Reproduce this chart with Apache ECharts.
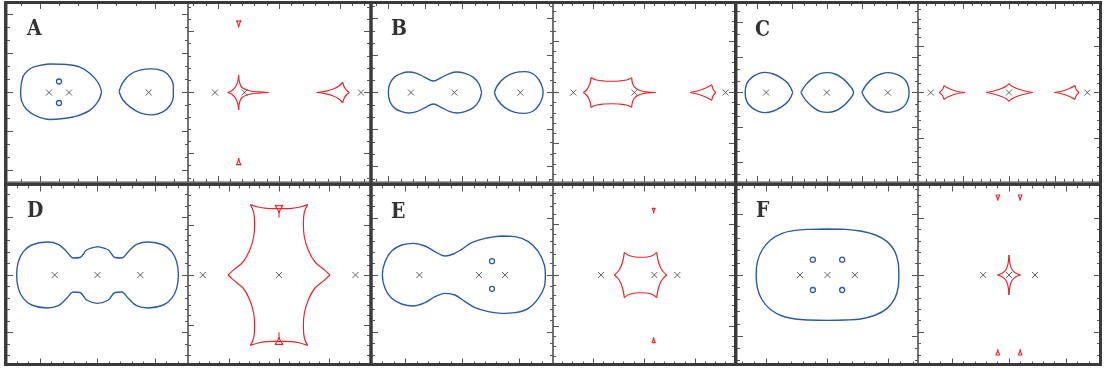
<!DOCTYPE html>
<html>
<head>
<meta charset="utf-8">
<script src="https://cdn.jsdelivr.net/npm/echarts@6/dist/echarts.min.js"></script>
<style>
  html, body { margin: 0; padding: 0; background: #ffffff; }
  #chart { width: 1106px; height: 372px; }
</style>
</head>
<body>
<div id="chart"></div>
<script>
// ---------- Data (angular units, image plane on the left, source plane on the right) ----------

// Panel A
const lensA_img = [[-0.97, 0], [-0.57, 0], [1.023, 0]];
const imagesA = [[-0.77, 0.22], [-0.77, -0.21]];
const critA_1 = [[0.083,0.01],[0.017,-0.173],[-0.15,-0.353],[-0.417,-0.473],[-0.683,-0.52],[-0.95,-0.54],[-1.217,-0.473],[-1.417,-0.34],[-1.517,-0.173],[-1.537,0.02],[-1.49,0.32],[-1.383,0.447],[-1.283,0.507],[-0.95,0.57],[-0.617,0.56],[-0.35,0.507],[-0.15,0.38],[0.017,0.19],[0.083,0.01]];
const critA_2 = [[0.43,0.02],[0.503,0.193],[0.65,0.36],[0.85,0.447],[1.083,0.473],[1.317,0.427],[1.45,0.307],[1.517,0.127],[1.517,-0.073],[1.45,-0.26],[1.297,-0.393],[1.083,-0.447],[0.85,-0.407],[0.65,-0.287],[0.503,-0.14],[0.43,0.02]];
const lensA_src = [[-1.28, 0], [-0.693, 0], [1.64, 0]];
const causticA = [
  [[-1.027,0],[-0.95,0.03],[-0.88,0.1],[-0.83,0.2],[-0.807,0.35]],
  [[-0.807,0.35],[-0.79,0.2],[-0.74,0.1],[-0.613,0.04],[-0.413,0.012],[-0.207,0]],
  [[-0.207,0],[-0.413,-0.012],[-0.613,-0.04],[-0.74,-0.1],[-0.79,-0.2],[-0.807,-0.35]],
  [[-0.807,-0.35],[-0.83,-0.2],[-0.88,-0.1],[-0.95,-0.03],[-1.027,0]],
  [[0.753,0],[0.92,0.023],[1.087,0.07],[1.2,0.13],[1.273,0.205]],
  [[1.273,0.205],[1.31,0.1],[1.36,0.035],[1.407,0]],
  [[1.407,0],[1.36,-0.035],[1.31,-0.1],[1.273,-0.205]],
  [[1.273,-0.205],[1.2,-0.13],[1.087,-0.07],[0.92,-0.023],[0.753,0]]
];
const smallA = [
  [[-0.853,1.437],[-0.807,1.425],[-0.76,1.437],[-0.79,1.38],[-0.807,1.303],[-0.824,1.38],[-0.853,1.437]],
  [[-0.807,-1.31],[-0.79,-1.39],[-0.76,-1.45],[-0.807,-1.437],[-0.853,-1.45],[-0.824,-1.39],[-0.807,-1.31]]
];

// Panel B
const lensB_img = [[-1.03, 0], [-0.163, 0], [1.157, 0]];
const critB_1 = [[0.383,0],[0.33,-0.17],[0.217,-0.303],[0.05,-0.383],[-0.117,-0.41],[-0.25,-0.383],[-0.417,-0.303],[-0.583,-0.23],[-0.75,-0.303],[-0.917,-0.383],[-1.083,-0.41],[-1.217,-0.383],[-1.35,-0.317],[-1.45,-0.183],[-1.483,0],[-1.45,0.183],[-1.35,0.317],[-1.217,0.383],[-1.083,0.41],[-0.917,0.383],[-0.75,0.303],[-0.583,0.23],[-0.417,0.303],[-0.25,0.383],[-0.117,0.41],[0.05,0.383],[0.217,0.303],[0.33,0.17],[0.383,0]];
const critB_2 = [[0.637,0],[0.703,0.15],[0.85,0.303],[1.05,0.397],[1.25,0.417],[1.417,0.37],[1.53,0.25],[1.597,0.103],[1.61,0],[1.597,-0.103],[1.53,-0.25],[1.417,-0.37],[1.25,-0.417],[1.05,-0.397],[0.85,-0.303],[0.703,-0.15],[0.637,0]];
const lensB_src = [[-1.413, 0], [-0.193, 0], [1.633, 0]];
const causticB = [
  [[-1.213,0],[-1.15,0.05],[-1.1,0.13],[-1.07,0.22],[-1.06,0.297]],
  [[-1.06,0.297],[-0.95,0.25],[-0.8,0.23],[-0.647,0.225],[-0.5,0.23],[-0.35,0.25],[-0.247,0.297]],
  [[-0.247,0.297],[-0.225,0.17],[-0.16,0.08],[-0.05,0.03],[0.08,0.008],[0.233,0]],
  [[0.233,0],[0.08,-0.008],[-0.05,-0.03],[-0.16,-0.08],[-0.225,-0.17],[-0.247,-0.297]],
  [[-0.247,-0.297],[-0.35,-0.25],[-0.5,-0.23],[-0.647,-0.225],[-0.8,-0.23],[-0.95,-0.25],[-1.06,-0.297]],
  [[-1.06,-0.297],[-1.07,-0.22],[-1.1,-0.13],[-1.15,-0.05],[-1.213,0]],
  [[0.92,0],[1.087,0.035],[1.233,0.09],[1.353,0.157]],
  [[1.353,0.157],[1.38,0.07],[1.433,0]],
  [[1.433,0],[1.38,-0.07],[1.353,-0.157]],
  [[1.353,-0.157],[1.233,-0.09],[1.087,-0.035],[0.92,0]]
];

// Panel C
const lensC_img = [[-1.227, 0], [-0.013, 0], [1.207, 0]];
const critC_1 = [[-0.693,0],[-0.78,-0.17],[-0.913,-0.283],[-1.08,-0.37],[-1.247,-0.403],[-1.38,-0.377],[-1.513,-0.303],[-1.613,-0.183],[-1.647,0],[-1.613,0.183],[-1.513,0.303],[-1.38,0.377],[-1.247,0.403],[-1.08,0.37],[-0.913,0.283],[-0.78,0.17],[-0.693,0]];
const critC_2 = [[-0.533,0],[-0.433,0.157],[-0.28,0.303],[-0.147,0.377],[0,0.397],[0.153,0.37],[0.3,0.283],[0.433,0.15],[0.52,0],[0.433,-0.15],[0.3,-0.283],[0.153,-0.37],[0,-0.397],[-0.147,-0.377],[-0.28,-0.303],[-0.433,-0.157],[-0.533,0]];
const critC_3 = [[0.687,0],[0.773,0.15],[0.92,0.297],[1.067,0.37],[1.22,0.397],[1.387,0.363],[1.52,0.283],[1.6,0.17],[1.633,0],[1.6,-0.17],[1.52,-0.283],[1.387,-0.363],[1.22,-0.397],[1.067,-0.37],[0.92,-0.297],[0.773,-0.15],[0.687,0]];
const lensC_src = [[-1.565, 0], [0, 0], [1.565, 0]];
const causticC = [
  [[-0.88,0],[-1.047,0.025],[-1.18,0.07],[-1.3,0.137]],
  [[-1.3,0.137],[-1.33,0.06],[-1.393,0]],
  [[-1.393,0],[-1.33,-0.06],[-1.3,-0.137]],
  [[-1.3,-0.137],[-1.18,-0.07],[-1.047,-0.025],[-0.88,0]],
  [[-0.46,0],[-0.313,0.03],[-0.15,0.08],[-0.05,0.13],[0,0.177]],
  [[0,0.177],[0.05,0.13],[0.153,0.08],[0.32,0.03],[0.473,0]],
  [[0.473,0],[0.32,-0.03],[0.153,-0.08],[0.05,-0.13],[0,-0.177]],
  [[0,-0.177],[-0.05,-0.13],[-0.15,-0.08],[-0.313,-0.03],[-0.46,0]],
  [[0.907,0],[1.053,0.025],[1.187,0.07],[1.32,0.137]],
  [[1.32,0.137],[1.345,0.06],[1.4,0]],
  [[1.4,0],[1.345,-0.06],[1.32,-0.137]],
  [[1.32,-0.137],[1.187,-0.07],[1.053,-0.025],[0.907,0]]
];

// Panel D
const lensD_img = [[-0.857, 0], [0, 0], [0.857, 0]];
const critD_1 = [[0,0.567],[0.217,0.5],[0.35,0.35],[0.483,0.34],[0.617,0.467],[0.783,0.613],[1.017,0.66],[1.317,0.6],[1.483,0.467],[1.583,0.267],[1.617,0],[1.583,-0.267],[1.483,-0.467],[1.317,-0.6],[1.017,-0.66],[0.783,-0.613],[0.617,-0.467],[0.483,-0.34],[0.35,-0.35],[0.217,-0.5],[0,-0.567],[-0.217,-0.5],[-0.35,-0.35],[-0.483,-0.34],[-0.617,-0.467],[-0.783,-0.613],[-1.017,-0.66],[-1.317,-0.6],[-1.483,-0.467],[-1.583,-0.267],[-1.617,0],[-1.583,0.267],[-1.483,0.467],[-1.317,0.6],[-1.017,0.66],[-0.783,0.613],[-0.617,0.467],[-0.483,0.34],[-0.35,0.35],[-0.217,0.5],[0,0.567]];
const lensD_src = [[-1.525, 0], [0, 0], [1.53, 0]];
const causticD = [
  [[-1.02,0],[-0.92,0.093],[-0.72,0.26],[-0.587,0.493],[-0.507,0.76],[-0.487,1.027],[-0.507,1.26],[-0.573,1.407]],
  [[-0.573,1.407],[-0.42,1.36],[-0.253,1.333],[-0.1,1.327],[0.1,1.327],[0.253,1.333],[0.42,1.36],[0.573,1.407]],
  [[0.573,1.407],[0.507,1.26],[0.487,1.027],[0.507,0.76],[0.587,0.493],[0.72,0.26],[0.92,0.093],[1.02,0]],
  [[1.02,0],[0.92,-0.093],[0.72,-0.26],[0.587,-0.493],[0.507,-0.76],[0.487,-1.027],[0.507,-1.26],[0.573,-1.407]],
  [[0.573,-1.407],[0.42,-1.36],[0.253,-1.333],[0.1,-1.327],[-0.1,-1.327],[-0.253,-1.333],[-0.42,-1.36],[-0.573,-1.407]],
  [[-0.573,-1.407],[-0.507,-1.26],[-0.487,-1.027],[-0.507,-0.76],[-0.587,-0.493],[-0.72,-0.26],[-0.92,-0.093],[-1.02,0]]
];
const smallD = [
  [[-0.08,1.393],[0,1.385],[0.08,1.393],[0.02,1.3],[0,1.227],[-0.02,1.3],[-0.08,1.393]],
  [[0,1.227],[0,1.147]],
  [[0,-1.227],[0.02,-1.3],[0.08,-1.393],[0,-1.385],[-0.08,-1.393],[-0.02,-1.3],[0,-1.227]],
  [[0,-1.227],[0,-1.147]]
];

// Panel E
const lensE_img = [[-0.863, 0], [0.33, 0], [0.85, 0]];
const imagesE = [[0.59, 0.277], [0.59, -0.277]];
const critE_1 = [[0.783,0.78],[1.05,0.767],[1.317,0.667],[1.517,0.467],[1.637,0.2],[1.657,0],[1.637,-0.233],[1.517,-0.467],[1.317,-0.667],[1.05,-0.753],[0.783,-0.767],[0.517,-0.733],[0.25,-0.653],[0.05,-0.533],[-0.15,-0.4],[-0.35,-0.367],[-0.55,-0.433],[-0.75,-0.553],[-0.983,-0.62],[-1.217,-0.58],[-1.417,-0.467],[-1.55,-0.267],[-1.603,0],[-1.55,0.267],[-1.417,0.48],[-1.217,0.6],[-0.983,0.633],[-0.75,0.58],[-0.55,0.467],[-0.35,0.38],[-0.183,0.42],[-0.017,0.513],[0.183,0.647],[0.45,0.733],[0.783,0.78]];
const lensE_src = [[-0.86, 0], [0.207, 0], [0.667, 0]];
const causticE = [
  [[-0.593,0],[-0.52,0.07],[-0.46,0.17],[-0.42,0.3],[-0.393,0.453]],
  [[-0.393,0.453],[-0.3,0.39],[-0.17,0.36],[-0.07,0.355],[0.06,0.36],[0.17,0.39],[0.253,0.453]],
  [[0.253,0.453],[0.28,0.3],[0.32,0.17],[0.38,0.07],[0.453,0]],
  [[0.453,0],[0.38,-0.07],[0.32,-0.17],[0.28,-0.3],[0.253,-0.453]],
  [[0.253,-0.453],[0.17,-0.39],[0.06,-0.36],[-0.07,-0.355],[-0.17,-0.36],[-0.3,-0.39],[-0.393,-0.453]],
  [[-0.393,-0.453],[-0.42,-0.3],[-0.46,-0.17],[-0.52,-0.07],[-0.593,0]]
];
const smallE = [
  [[0.16,1.333],[0.193,1.323],[0.227,1.333],[0.203,1.29],[0.193,1.233],[0.183,1.29],[0.16,1.333]],
  [[0.193,-1.247],[0.203,-1.3],[0.227,-1.353],[0.193,-1.343],[0.16,-1.353],[0.183,-1.3],[0.193,-1.247]]
];

// Panel F
const lensF_img = [[-0.55, 0], [0, 0], [0.547, 0]];
const imagesF = [[-0.293, 0.307], [0.293, 0.307], [-0.293, -0.3], [0.293, -0.3]];
const critF_1 = [[0,0.92],[0.36,0.913],[0.66,0.88],[0.96,0.8],[1.193,0.667],[1.347,0.467],[1.413,0.247],[1.427,0],[1.413,-0.247],[1.347,-0.467],[1.193,-0.667],[0.96,-0.8],[0.66,-0.88],[0.36,-0.9],[0,-0.907],[-0.373,-0.9],[-0.64,-0.88],[-0.907,-0.82],[-1.14,-0.69],[-1.307,-0.5],[-1.4,-0.267],[-1.427,0],[-1.4,0.267],[-1.307,0.5],[-1.14,0.7],[-0.907,0.833],[-0.64,0.893],[-0.373,0.913],[0,0.92]];
const lensF_src = [[-0.517, 0], [0, 0], [0.52, 0]];
const causticF = [
  [[-0.23,0],[-0.13,0.04],[-0.06,0.11],[-0.02,0.22],[0,0.4]],
  [[0,0.4],[0.02,0.22],[0.06,0.11],[0.13,0.04],[0.23,0]],
  [[0.23,0],[0.13,-0.04],[0.06,-0.11],[0.02,-0.22],[0,-0.4]],
  [[0,-0.4],[-0.02,-0.22],[-0.06,-0.11],[-0.13,-0.04],[-0.23,0]]
];
const smallF = [
  [[-0.263,1.6],[-0.223,1.59],[-0.183,1.6],[-0.213,1.54],[-0.223,1.487],[-0.233,1.54],[-0.263,1.6]],
  [[0.183,1.6],[0.223,1.59],[0.263,1.6],[0.233,1.54],[0.223,1.487],[0.213,1.54],[0.183,1.6]],
  [[-0.223,-1.487],[-0.213,-1.54],[-0.183,-1.6],[-0.223,-1.59],[-0.263,-1.6],[-0.233,-1.54],[-0.223,-1.487]],
  [[0.223,-1.487],[0.233,-1.54],[0.263,-1.6],[0.223,-1.59],[0.183,-1.6],[0.213,-1.54],[0.223,-1.487]]
];

const panelLetters = ['A', 'B', 'C', 'D', 'E', 'F'];

// ---------- Layout and styling ----------
const BLUE = '#2a5ba6';
const RED = '#e8262a';
const CROSS = '#3c3c3c';
const FRAME = '#3a3a3a';
const TICK = '#555555';
const PX_PER_UNIT = 50;

const cols = [[7, 181], [188, 182], [372, 181], [553, 182], [737, 181], [918, 182]];
const rows = [[3, 179], [185.5, 179]];

// each panel: image plane (critical curves) + source plane (caustics);
// tick = [x major step, y major step, minor divisions per major]
const subplots = [
  { col: 0, row: 0, loops: [critA_1, critA_2], lenses: lensA_img, images: imagesA, tick: [1.15, 0.78, 3] },
  { col: 1, row: 0, edges: causticA, smalls: smallA, lenses: lensA_src, tick: [1.22, 1.22, 5] },
  { col: 2, row: 0, loops: [critB_1, critB_2], lenses: lensB_img, tick: [0.74, 0.74, 3] },
  { col: 3, row: 0, edges: causticB, lenses: lensB_src, tick: [1.02, 1.02, 5] },
  { col: 4, row: 0, loops: [critC_1, critC_2, critC_3], lenses: lensC_img, tick: [0.7, 0.7, 3] },
  { col: 5, row: 0, edges: causticC, lenses: lensC_src, tick: [0.92, 0.92, 5] },
  { col: 0, row: 1, loops: [critD_1], lenses: lensD_img, tick: [1.15, 1.15, 5] },
  { col: 1, row: 1, edges: causticD, smalls: smallD, lenses: lensD_src, tick: [1.0, 1.0, 5] },
  { col: 2, row: 1, loops: [critE_1], lenses: lensE_img, images: imagesE, tick: [1.14, 1.14, 5] },
  { col: 3, row: 1, edges: causticE, smalls: smallE, lenses: lensE_src, tick: [1.02, 1.02, 5] },
  { col: 4, row: 1, loops: [critF_1], lenses: lensF_img, images: imagesF, tick: [1.22, 1.22, 5] },
  { col: 5, row: 1, edges: causticF, smalls: smallF, lenses: lensF_src, tick: [1.14, 1.14, 5] }
];

function tickValues(range, step) {
  const out = [];
  const n = Math.floor(range / step);
  for (let k = -n; k <= n; k++) {
    const v = +(k * step).toFixed(4);
    if (Math.abs(v) < range - 0.02) out.push(v);
  }
  return out;
}

const grids = [], xAxes = [], yAxes = [], series = [];

subplots.forEach((sp, gi) => {
  const [left, width] = cols[sp.col];
  const [top, height] = rows[sp.row];
  grids.push({ left, top, width, height, show: true, borderColor: '#444', borderWidth: 1, backgroundColor: 'transparent', containLabel: false });
  const rx = +(width / 2 / PX_PER_UNIT).toFixed(4);
  const ry = +(height / 2 / PX_PER_UNIT).toFixed(4);
  const [mx, my, div] = sp.tick;
  const common = { gridIndex: gi, type: 'value', axisLine: { show: false, onZero: false }, splitLine: { show: false }, axisLabel: { show: false } };
  const xi = xAxes.length, yi = yAxes.length;
  ['bottom', 'top'].forEach(pos => {
    xAxes.push(Object.assign({}, common, { min: -rx, max: rx, position: pos,
      axisTick: { show: true, inside: true, length: 6, customValues: tickValues(rx, mx), lineStyle: { color: TICK, width: 1 } } }));
    xAxes.push(Object.assign({}, common, { min: -rx, max: rx, position: pos,
      axisTick: { show: true, inside: true, length: 3, customValues: tickValues(rx, mx / div), lineStyle: { color: TICK, width: 1 } } }));
  });
  ['left', 'right'].forEach(pos => {
    yAxes.push(Object.assign({}, common, { min: -ry, max: ry, position: pos,
      axisTick: { show: true, inside: true, length: 6, customValues: tickValues(ry, my), lineStyle: { color: TICK, width: 1 } } }));
    yAxes.push(Object.assign({}, common, { min: -ry, max: ry, position: pos,
      axisTick: { show: true, inside: true, length: 3, customValues: tickValues(ry, my / div), lineStyle: { color: TICK, width: 1 } } }));
  });

  const lineBase = { type: 'line', xAxisIndex: xi, yAxisIndex: yi, symbol: 'none', silent: true, animation: false, z: 3 };
  (sp.loops || []).forEach(loop => {
    series.push(Object.assign({}, lineBase, { data: loop, smooth: 0.35, lineStyle: { color: BLUE, width: 1.4 } }));
  });
  (sp.edges || []).forEach(edge => {
    series.push(Object.assign({}, lineBase, { data: edge, smooth: 0.35, lineStyle: { color: RED, width: 1.2 } }));
  });
  (sp.smalls || []).forEach(poly => {
    series.push(Object.assign({}, lineBase, { data: poly, smooth: false, lineStyle: { color: RED, width: 1.1 } }));
  });
  series.push({ type: 'scatter', xAxisIndex: xi, yAxisIndex: yi, data: sp.lenses, silent: true, animation: false, z: 4,
    symbol: 'path://M0,0L10,10M10,0L0,10', symbolSize: 6,
    itemStyle: { color: 'none', borderColor: CROSS, borderWidth: 1 } });
  if (sp.images) {
    series.push({ type: 'scatter', xAxisIndex: xi, yAxisIndex: yi, data: sp.images, silent: true, animation: false, z: 5,
      symbol: 'circle', symbolSize: 5,
      itemStyle: { color: '#ffffff', borderColor: BLUE, borderWidth: 1.3, opacity: 1 } });
  }
});

// panel frames and letters
const graphics = [
  { type: 'rect', shape: { x: 5.5, y: 2.5, width: 1095, height: 362 }, style: { fill: 'none', stroke: FRAME, lineWidth: 3 }, z: 100 },
  { type: 'line', shape: { x1: 5.5, y1: 184, x2: 1100.5, y2: 184 }, style: { stroke: FRAME, lineWidth: 3 }, z: 100 },
  { type: 'line', shape: { x1: 371, y1: 2.5, x2: 371, y2: 364.5 }, style: { stroke: FRAME, lineWidth: 3 }, z: 100 },
  { type: 'line', shape: { x1: 735.5, y1: 2.5, x2: 735.5, y2: 364.5 }, style: { stroke: FRAME, lineWidth: 3 }, z: 100 }
];
const letterPos = [[27, 18], [391, 18], [755, 19], [27, 200], [391, 201], [756, 200]];
panelLetters.forEach((t, i) => {
  graphics.push({ type: 'text', x: letterPos[i][0], y: letterPos[i][1], scaleX: 0.82, z: 101,
    style: { text: t, font: 'bold 23px "DejaVu Serif"', fill: '#333333', textAlign: 'left', textVerticalAlign: 'top' } });
});

const chart = echarts.init(document.getElementById('chart'), null, { renderer: 'canvas' });
chart.setOption({
  animation: false,
  backgroundColor: '#ffffff',
  grid: grids,
  xAxis: xAxes,
  yAxis: yAxes,
  series: series,
  graphic: graphics
});
</script>
</body>
</html>
